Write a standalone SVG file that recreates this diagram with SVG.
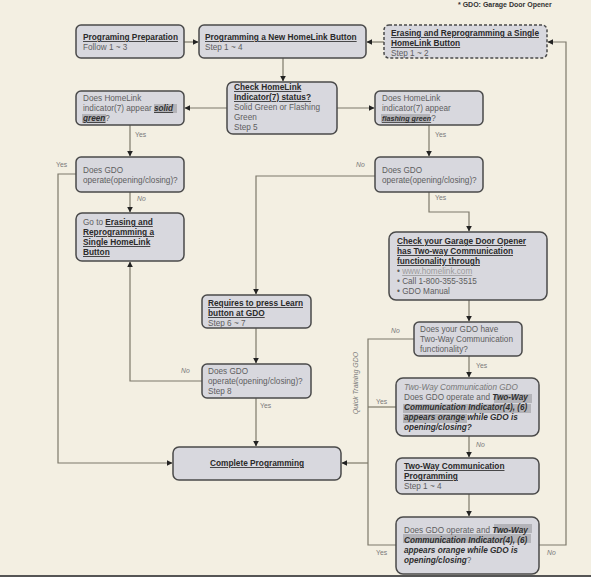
<svg xmlns="http://www.w3.org/2000/svg" width="591" height="577" viewBox="0 0 591 577">
<defs>
<style>
.bg{fill:#f3efe2}
.box{fill:#d8d8de;stroke:#4a4a4a;stroke-width:1.5}
.dash{stroke-dasharray:3 2}
.hl{fill:#b3b3b8}
.t{font-family:"Liberation Sans",Arial,sans-serif;font-size:8.2px;fill:#5e5e5e}
.b{font-weight:bold;font-size:8.3px;fill:#2a2a2a;text-decoration:underline}
.bi{font-weight:bold;font-style:italic;fill:#2e2e2e}
.it{font-style:italic;fill:#777}
.lbl{font-family:"Liberation Sans",Arial,sans-serif;font-size:6.8px;fill:#7a7a7a}
.no{font-style:italic}
.edge{fill:none;stroke:#7d786a;stroke-width:1.2}
</style>
<marker id="ah" viewBox="0 0 10 10" refX="9" refY="5" markerWidth="6" markerHeight="6" orient="auto" markerUnits="userSpaceOnUse">
<path d="M0,0 L10,5 L0,10 z" fill="#222"/>
</marker>
</defs>
<rect class="bg" x="0" y="0" width="591" height="577"/>
<line x1="0" y1="576" x2="591" y2="576" stroke="#555" stroke-width="2"/>
<text x="458" y="7" style="font-family:'Liberation Sans',Arial,sans-serif;font-size:7px;font-weight:bold;fill:#333">* GDO: Garage Door Opener</text>

<g id="connectors">
<path class="edge" d="M184,42 H198" marker-end="url(#ah)"/>
<path class="edge" d="M384,42 H367" marker-end="url(#ah)"/>
<path class="edge" d="M283,58 V81" marker-end="url(#ah)"/>
<path class="edge" d="M227,108 H185" marker-end="url(#ah)"/>
<path class="edge" d="M337,108 H374" marker-end="url(#ah)"/>
<path class="edge" d="M130,125 V156" marker-end="url(#ah)"/>
<path class="edge" d="M130,192 V212" marker-end="url(#ah)"/>
<path class="edge" d="M76,174 H58 V463 H172" marker-end="url(#ah)"/>
<path class="edge" d="M429,125 V156" marker-end="url(#ah)"/>
<path class="edge" d="M375,176 H256 V294" marker-end="url(#ah)"/>
<path class="edge" d="M429,192 V212 H469 V231" marker-end="url(#ah)"/>
<path class="edge" d="M469,300 V321" marker-end="url(#ah)"/>
<path class="edge" d="M256,328 V363" marker-end="url(#ah)"/>
<path class="edge" d="M202,381 H130 V262" marker-end="url(#ah)"/>
<path class="edge" d="M256,398 V446" marker-end="url(#ah)"/>
<path class="edge" d="M414,339 H368 V545 H396"/>
<path class="edge" d="M396,407 H368"/>
<path class="edge" d="M368,463 H342" marker-end="url(#ah)"/>
<path class="edge" d="M469,356 V377" marker-end="url(#ah)"/>
<path class="edge" d="M469,436 V457" marker-end="url(#ah)"/>
<path class="edge" d="M469,494 V516" marker-end="url(#ah)"/>
<path class="edge" d="M539,545 H566 V42 H548" marker-end="url(#ah)"/>
</g>

<g id="labels">
<text class="lbl" x="135" y="137">Yes</text>
<text class="lbl no" x="137" y="201">No</text>
<text class="lbl" x="56" y="167">Yes</text>
<text class="lbl" x="435" y="137">Yes</text>
<text class="lbl no" x="356" y="167">No</text>
<text class="lbl" x="435" y="200">Yes</text>
<text class="lbl no" x="181" y="373">No</text>
<text class="lbl" x="260" y="408">Yes</text>
<text class="lbl no" x="391" y="333">No</text>
<text class="lbl" x="476" y="368">Yes</text>
<text class="lbl" x="376" y="404">Yes</text>
<text class="lbl no" x="476" y="447">No</text>
<text class="lbl" x="376" y="555">Yes</text>
<text class="lbl no" x="547" y="555">No</text>
<text class="lbl it" transform="translate(358,383) rotate(-90)" text-anchor="middle" style="font-size:7px">Quick Training GDO</text>
</g>

<g id="n-prep">
<rect class="box" x="76" y="25" width="108" height="33" rx="5"/>
<text class="t" x="83" y="40"><tspan class="b">Programing Preparation</tspan></text>
<text class="t" x="83" y="50">Follow 1 ~ 3</text>
</g>
<g id="n-new">
<rect class="box" x="199" y="25" width="167" height="33" rx="5"/>
<text class="t" x="205" y="40"><tspan class="b">Programming a New HomeLink Button</tspan></text>
<text class="t" x="205" y="50">Step 1 ~ 4</text>
</g>
<g id="n-erase">
<rect class="box dash" x="384" y="25" width="163" height="33" rx="5"/>
<text class="t" x="391" y="36"><tspan class="b">Erasing and Reprogramming a Single</tspan></text>
<text class="t" x="391" y="46"><tspan class="b">HomeLink Button</tspan></text>
<text class="t" x="391" y="56">Step 1 ~ 2</text>
</g>
<g id="n-check">
<rect class="box" x="227" y="82" width="110" height="52" rx="6"/>
<text class="t" x="234" y="90"><tspan class="b">Check HomeLink</tspan></text>
<text class="t" x="234" y="100"><tspan class="b">Indicator(7) status?</tspan></text>
<text class="t" x="234" y="110">Solid Green or Flashing</text>
<text class="t" x="234" y="120">Green</text>
<text class="t" x="234" y="130">Step 5</text>
</g>
<g id="n-solid">
<rect class="box" x="76" y="91" width="108" height="34" rx="5"/>
<rect class="hl" x="154" y="104" width="23" height="9"/>
<rect class="hl" x="82" y="114" width="24" height="9"/>
<text class="t" x="83" y="101">Does HomeLink</text>
<text class="t" x="83" y="111">indicator(7) appear <tspan class="bi" text-decoration="underline">solid</tspan></text>
<text class="t" x="83" y="121"><tspan class="bi" text-decoration="underline">green</tspan>?</text>
</g>
<g id="n-flash">
<rect class="box" x="375" y="91" width="108" height="34" rx="5"/>
<rect class="hl" x="381" y="114" width="49" height="9"/>
<text class="t" x="382" y="101">Does HomeLink</text>
<text class="t" x="382" y="111">indicator(7) appear</text>
<text class="t" x="382" y="121"><tspan class="bi" text-decoration="underline" style="font-size:7.2px">flashing green</tspan>?</text>
</g>
<g id="n-gdo1">
<rect class="box" x="76" y="157" width="108" height="35" rx="5"/>
<text class="t" x="83" y="173">Does GDO</text>
<text class="t" x="83" y="183">operate(opening/closing)?</text>
</g>
<g id="n-goto">
<rect class="box" x="76" y="213" width="108" height="48" rx="6"/>
<text class="t" x="83" y="225">Go to <tspan class="b">Erasing and</tspan></text>
<text class="t" x="83" y="235"><tspan class="b">Reprogramming a</tspan></text>
<text class="t" x="83" y="245"><tspan class="b">Single HomeLink</tspan></text>
<text class="t" x="83" y="255"><tspan class="b">Button</tspan></text>
</g>
<g id="n-gdo2">
<rect class="box" x="375" y="157" width="108" height="35" rx="5"/>
<text class="t" x="382" y="173">Does GDO</text>
<text class="t" x="382" y="183">operate(opening/closing)?</text>
</g>
<g id="n-checkgdo">
<rect class="box" x="389" y="232" width="158" height="68" rx="7"/>
<text class="t" x="397" y="244"><tspan class="b">Check your Garage Door Opener</tspan></text>
<text class="t" x="397" y="254"><tspan class="b">has Two-way Communication</tspan></text>
<text class="t" x="397" y="264"><tspan class="b">functionality through</tspan></text>
<text class="t" x="397" y="274">• <tspan fill="#9a9a9a" text-decoration="underline">www.homelink.com</tspan></text>
<text class="t" x="397" y="284">• Call 1-800-355-3515</text>
<text class="t" x="397" y="294">• GDO Manual</text>
</g>
<g id="n-learn">
<rect class="box" x="202" y="295" width="109" height="33" rx="5"/>
<text class="t" x="208" y="306"><tspan class="b">Requires to press Learn</tspan></text>
<text class="t" x="208" y="316"><tspan class="b">button at GDO</tspan></text>
<text class="t" x="208" y="326">Step 6 ~ 7</text>
</g>
<g id="n-gdo3">
<rect class="box" x="202" y="364" width="109" height="34" rx="5"/>
<text class="t" x="208" y="374">Does GDO</text>
<text class="t" x="208" y="384">operate(opening/closing)?</text>
<text class="t" x="208" y="394">Step 8</text>
</g>
<g id="n-complete">
<rect class="box" x="173" y="447" width="168" height="33" rx="6"/>
<text class="t" x="257" y="466" text-anchor="middle"><tspan class="b">Complete Programming</tspan></text>
</g>
<g id="n-havetwoway">
<rect class="box" x="414" y="322" width="108" height="34" rx="5"/>
<text class="t" x="420" y="332">Does your GDO have</text>
<text class="t" x="420" y="342">Two-Way Communication</text>
<text class="t" x="420" y="352">functionality?</text>
</g>
<g id="n-twowaygdo">
<rect class="box" x="396" y="378" width="143" height="58" rx="7"/>
<rect class="hl" x="494" y="394" width="38" height="9"/>
<rect class="hl" x="403" y="404" width="128" height="9"/>
<rect class="hl" x="403" y="414" width="64" height="9"/>
<text class="t it" x="404" y="390">Two-Way Communication GDO</text>
<text class="t" x="404" y="400">Does GDO operate and <tspan class="bi">Two-Way</tspan></text>
<text class="t bi" x="404" y="410">Communication Indicator(4), (6)</text>
<text class="t bi" x="404" y="420">appears orange while GDO is</text>
<text class="t bi" x="404" y="430">opening/closing?</text>
</g>
<g id="n-twowayprog">
<rect class="box" x="396" y="458" width="143" height="36" rx="6"/>
<text class="t" x="404" y="469"><tspan class="b">Two-Way Communication</tspan></text>
<text class="t" x="404" y="479"><tspan class="b">Programming</tspan></text>
<text class="t" x="404" y="489">Step 1 ~ 4</text>
</g>
<g id="n-gdo4">
<rect class="box" x="396" y="517" width="143" height="57" rx="7"/>
<rect class="hl" x="494" y="524" width="38" height="9"/>
<rect class="hl" x="403" y="534" width="128" height="9"/>
<text class="t" x="404" y="533">Does GDO operate and <tspan class="bi">Two-Way</tspan></text>
<text class="t bi" x="404" y="543">Communication Indicator(4), (6)</text>
<text class="t bi" x="404" y="553">appears orange while GDO is</text>
<text class="t" x="404" y="563"><tspan class="bi">opening/closing</tspan>?</text>
</g>
</svg>
